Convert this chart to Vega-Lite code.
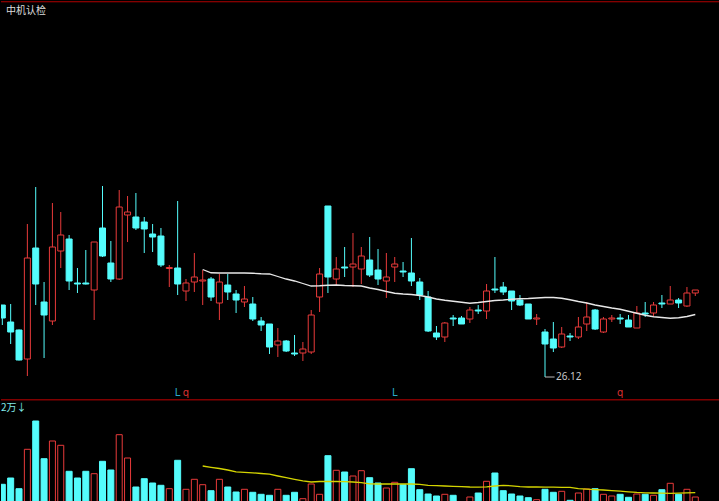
{
  "$schema": "https://vega.github.io/schema/vega-lite/v6.json",
  "background": "#000000",
  "padding": 0,
  "spacing": 0,
  "config": {"view": {"stroke": null}},
  "datasets": {
    "k": [
      {"i":0,"o":29.00,"h":29.00,"l":28.20,"c":28.48,"v":18700},
      {"i":1,"o":28.32,"h":29.04,"l":27.44,"c":27.92,"v":25000},
      {"i":2,"o":28.00,"h":28.02,"l":26.78,"c":26.80,"v":14300},
      {"i":3,"o":26.84,"h":32.24,"l":26.16,"c":30.88,"v":53700},
      {"i":4,"o":31.28,"h":33.72,"l":29.00,"c":29.84,"v":82000},
      {"i":5,"o":29.12,"h":29.92,"l":26.88,"c":28.60,"v":44300},
      {"i":6,"o":28.36,"h":33.08,"l":28.20,"c":31.32,"v":62000},
      {"i":7,"o":31.16,"h":32.72,"l":30.48,"c":31.80,"v":57700},
      {"i":8,"o":31.64,"h":31.80,"l":29.60,"c":29.96,"v":31700},
      {"i":9,"o":29.88,"h":30.48,"l":29.48,"c":29.84,"v":25000},
      {"i":10,"o":29.88,"h":31.20,"l":29.82,"c":29.84,"v":31700},
      {"i":11,"o":29.60,"h":31.52,"l":28.40,"c":31.52,"v":29300},
      {"i":12,"o":32.08,"h":33.76,"l":30.92,"c":30.96,"v":41700},
      {"i":13,"o":30.68,"h":31.56,"l":29.92,"c":30.04,"v":33000},
      {"i":14,"o":30.04,"h":33.60,"l":30.00,"c":32.92,"v":68300},
      {"i":15,"o":32.60,"h":33.36,"l":31.52,"c":32.72,"v":45000},
      {"i":16,"o":32.52,"h":33.48,"l":32.00,"c":32.08,"v":16000},
      {"i":17,"o":32.32,"h":32.52,"l":31.08,"c":32.04,"v":24300},
      {"i":18,"o":31.84,"h":32.24,"l":31.12,"c":31.72,"v":20000},
      {"i":19,"o":31.76,"h":32.08,"l":30.52,"c":30.60,"v":17700},
      {"i":20,"o":30.46,"h":30.60,"l":29.72,"c":30.50,"v":14300},
      {"i":21,"o":30.48,"h":33.16,"l":29.40,"c":29.84,"v":42700},
      {"i":22,"o":29.56,"h":30.04,"l":29.16,"c":29.88,"v":13700},
      {"i":23,"o":29.92,"h":31.08,"l":29.52,"c":30.12,"v":23700},
      {"i":24,"o":29.96,"h":30.40,"l":29.00,"c":30.00,"v":18300,"ma":30.42,"vma":37000},
      {"i":25,"o":30.04,"h":30.12,"l":29.16,"c":29.32,"v":12300,"ma":30.29,"vma":35700},
      {"i":26,"o":29.08,"h":30.24,"l":28.40,"c":29.92,"v":23700,"ma":30.28,"vma":34500},
      {"i":27,"o":29.80,"h":30.24,"l":29.20,"c":29.52,"v":16000,"ma":30.28,"vma":33000},
      {"i":28,"o":29.44,"h":29.60,"l":28.68,"c":29.20,"v":11000,"ma":30.28,"vma":31200},
      {"i":29,"o":29.12,"h":29.76,"l":28.92,"c":29.24,"v":13700,"ma":30.28,"vma":30700},
      {"i":30,"o":29.04,"h":29.32,"l":28.36,"c":28.44,"v":10700,"ma":30.27,"vma":30200},
      {"i":31,"o":28.36,"h":28.52,"l":27.96,"c":28.20,"v":8700,"ma":30.25,"vma":29500},
      {"i":32,"o":28.24,"h":28.24,"l":27.04,"c":27.32,"v":7700,"ma":30.24,"vma":28800},
      {"i":33,"o":27.40,"h":28.08,"l":26.92,"c":27.56,"v":13700,"ma":30.14,"vma":27000},
      {"i":34,"o":27.56,"h":27.60,"l":27.12,"c":27.16,"v":7700,"ma":30.04,"vma":25300},
      {"i":35,"o":27.08,"h":27.80,"l":26.96,"c":27.04,"v":10700,"ma":29.96,"vma":23700},
      {"i":36,"o":27.08,"h":27.52,"l":26.76,"c":27.24,"v":4300,"ma":29.86,"vma":22200},
      {"i":37,"o":27.12,"h":28.80,"l":27.04,"c":28.60,"v":19000,"ma":29.76,"vma":21000},
      {"i":38,"o":29.32,"h":30.48,"l":28.72,"c":30.24,"v":8700,"ma":29.77,"vma":21500},
      {"i":39,"o":32.96,"h":32.96,"l":29.48,"c":30.12,"v":47300,"ma":29.79,"vma":21700},
      {"i":40,"o":30.04,"h":30.92,"l":29.80,"c":30.44,"v":32700,"ma":29.80,"vma":21500},
      {"i":41,"o":30.52,"h":31.32,"l":30.12,"c":30.48,"v":31000,"ma":29.78,"vma":21400},
      {"i":42,"o":30.52,"h":31.88,"l":29.72,"c":30.64,"v":27000,"ma":29.77,"vma":21000},
      {"i":43,"o":30.44,"h":31.32,"l":29.84,"c":30.96,"v":32300,"ma":29.76,"vma":20300},
      {"i":44,"o":30.80,"h":31.72,"l":30.12,"c":30.20,"v":25300,"ma":29.68,"vma":19200},
      {"i":45,"o":30.40,"h":31.24,"l":29.80,"c":30.04,"v":20000,"ma":29.62,"vma":19000},
      {"i":46,"o":29.96,"h":31.08,"l":29.28,"c":30.12,"v":15000,"ma":29.54,"vma":19000},
      {"i":47,"o":30.52,"h":30.92,"l":29.92,"c":30.64,"v":20700,"ma":29.47,"vma":19000},
      {"i":48,"o":30.36,"h":30.72,"l":30.12,"c":30.32,"v":18300,"ma":29.44,"vma":19000},
      {"i":49,"o":30.28,"h":31.68,"l":29.76,"c":29.96,"v":34300,"ma":29.42,"vma":19000},
      {"i":50,"o":29.92,"h":30.08,"l":29.20,"c":29.40,"v":13300,"ma":29.38,"vma":18700},
      {"i":51,"o":29.32,"h":29.56,"l":27.92,"c":27.96,"v":9000,"ma":29.32,"vma":17700},
      {"i":52,"o":27.88,"h":28.16,"l":27.60,"c":27.72,"v":7000,"ma":29.24,"vma":17400},
      {"i":53,"o":27.72,"h":28.32,"l":27.52,"c":28.28,"v":8700,"ma":29.19,"vma":17000},
      {"i":54,"o":28.48,"h":28.60,"l":28.16,"c":28.44,"v":7700,"ma":29.15,"vma":16700},
      {"i":55,"o":28.48,"h":28.56,"l":28.24,"c":28.24,"v":1000,"ma":29.11,"vma":16400},
      {"i":56,"o":28.44,"h":28.92,"l":28.28,"c":28.80,"v":6000,"ma":29.07,"vma":16000},
      {"i":57,"o":28.80,"h":29.00,"l":28.64,"c":28.76,"v":10000,"ma":29.10,"vma":15800},
      {"i":58,"o":28.76,"h":29.84,"l":28.44,"c":29.56,"v":21700,"ma":29.14,"vma":16200},
      {"i":59,"o":29.64,"h":30.92,"l":29.48,"c":29.60,"v":30000,"ma":29.18,"vma":17000},
      {"i":60,"o":29.72,"h":29.92,"l":29.40,"c":29.52,"v":12300,"ma":29.20,"vma":17600},
      {"i":61,"o":29.56,"h":29.56,"l":28.80,"c":29.16,"v":9000,"ma":29.23,"vma":17200},
      {"i":62,"o":29.20,"h":29.40,"l":28.96,"c":29.00,"v":7000,"ma":29.25,"vma":16400},
      {"i":63,"o":29.04,"h":29.04,"l":28.44,"c":28.44,"v":5300,"ma":29.26,"vma":16000},
      {"i":64,"o":28.44,"h":28.64,"l":28.20,"c":28.48,"v":3300,"ma":29.28,"vma":16000},
      {"i":65,"o":27.92,"h":28.04,"l":26.12,"c":27.44,"v":13700,"ma":29.30,"vma":15900},
      {"i":66,"o":27.64,"h":28.32,"l":27.12,"c":27.28,"v":10700,"ma":29.30,"vma":15800},
      {"i":67,"o":27.32,"h":28.12,"l":27.28,"c":27.84,"v":11700,"ma":29.27,"vma":15700},
      {"i":68,"o":27.76,"h":27.88,"l":27.56,"c":27.72,"v":2700,"ma":29.21,"vma":15700},
      {"i":69,"o":27.72,"h":28.52,"l":27.64,"c":28.12,"v":10000,"ma":29.14,"vma":14300},
      {"i":70,"o":28.24,"h":29.12,"l":27.96,"c":28.52,"v":14000,"ma":29.08,"vma":13800},
      {"i":71,"o":28.80,"h":28.84,"l":28.00,"c":28.04,"v":14300,"ma":29.00,"vma":13400},
      {"i":72,"o":27.92,"h":28.52,"l":27.88,"c":28.44,"v":8700,"ma":28.94,"vma":13000},
      {"i":73,"o":28.44,"h":28.60,"l":28.32,"c":28.48,"v":7000,"ma":28.88,"vma":12400},
      {"i":74,"o":28.48,"h":28.64,"l":28.24,"c":28.44,"v":8700,"ma":28.83,"vma":11800},
      {"i":75,"o":28.40,"h":28.60,"l":28.12,"c":28.12,"v":5700,"ma":28.75,"vma":11200},
      {"i":76,"o":28.08,"h":28.96,"l":28.08,"c":28.68,"v":9000,"ma":28.67,"vma":10600},
      {"i":77,"o":28.68,"h":29.12,"l":28.52,"c":28.64,"v":8700,"ma":28.59,"vma":10200},
      {"i":78,"o":28.68,"h":29.12,"l":28.56,"c":29.00,"v":7700,"ma":28.53,"vma":10000},
      {"i":79,"o":29.08,"h":29.40,"l":28.88,"c":29.04,"v":13300,"ma":28.50,"vma":9800},
      {"i":80,"o":29.04,"h":29.76,"l":29.04,"c":29.20,"v":19700,"ma":28.47,"vma":9700},
      {"i":81,"o":29.20,"h":29.28,"l":28.88,"c":29.08,"v":8700,"ma":28.49,"vma":9900},
      {"i":82,"o":28.96,"h":29.72,"l":28.92,"c":29.48,"v":13700,"ma":28.54,"vma":10100},
      {"i":83,"o":29.48,"h":29.60,"l":29.36,"c":29.60,"v":6000,"ma":28.62,"vma":10300}
    ],
    "marks": [
      {"i":21,"t":"L"},
      {"i":22,"t":"q"},
      {"i":47,"t":"L"},
      {"i":74,"t":"q"}
    ]
  },
  "vconcat": [
    {
      "width": 719,
      "height": 397,
      "data": {"name": "k"},
      "layer": [
        {
          "data": {"values": [{"n": 1}]},
          "mark": {"type": "rule", "color": "#b00000", "strokeWidth": 1},
          "encoding": {
            "y": {"datum": 41.13, "type": "quantitative", "scale": {"domain": [25.32, 41.2], "nice": false, "zero": false, "padding": 0},
              "axis": {"grid": true, "gridColor": "#3a0000", "gridDash": [2, 3], "gridWidth": 1, "labels": false, "ticks": false, "domain": false, "title": null, "values": [40.52, 36.2, 31.88, 27.48], "minExtent": 0, "maxExtent": 0}}
          }
        },
        {
          "mark": {"type": "rule", "strokeWidth": 1, "clip": true},
          "encoding": {
            "x": {"field": "i", "type": "quantitative", "scale": {"domain": [-0.158, 85.96], "nice": false, "zero": false, "padding": 0}, "axis": null},
            "y": {"field": "l", "type": "quantitative", "axis": null},
            "y2": {"field": "h"},
            "color": {"condition": {"test": "datum.c >= datum.o", "value": "#e83a3a"}, "value": "#54fcfc"}
          }
        },
        {
          "mark": {"type": "bar", "size": 6, "strokeWidth": 1, "clip": true},
          "encoding": {
            "x": {"field": "i", "type": "quantitative", "axis": null},
            "y": {"field": "o", "type": "quantitative", "axis": null},
            "y2": {"field": "c"},
            "fill": {"condition": {"test": "datum.c >= datum.o", "value": "#000000"}, "value": "#54fcfc"},
            "stroke": {"condition": {"test": "datum.c >= datum.o", "value": "#e83a3a"}, "value": "#54fcfc"}
          }
        },
        {
          "mark": {"type": "line", "color": "#e8e8e8", "strokeWidth": 1.3, "clip": true},
          "encoding": {
            "x": {"field": "i", "type": "quantitative", "axis": null},
            "y": {"field": "ma", "type": "quantitative", "axis": null}
          }
        },
        {
          "transform": [
            {"window": [{"op": "row_number", "as": "r"}], "sort": [{"field": "l", "order": "ascending"}]},
            {"filter": "datum.r == 1"}
          ],
          "layer": [
            {
              "mark": {"type": "rule", "color": "#bbbbbb", "strokeWidth": 1},
              "encoding": {
                "x": {"field": "i", "type": "quantitative", "axis": null},
                "x2": {"datum": 66.15},
                "y": {"field": "l", "type": "quantitative", "axis": null}
              }
            },
            {
              "mark": {"type": "text", "align": "left", "baseline": "middle", "dx": 11, "font": "Noto Sans", "fontSize": 10, "color": "#c8c8c8"},
              "encoding": {
                "x": {"field": "i", "type": "quantitative", "axis": null},
                "y": {"field": "l", "type": "quantitative", "axis": null},
                "text": {"field": "l", "type": "quantitative", "format": ".2f"}
              }
            }
          ]
        },
        {
          "data": {"name": "marks"},
          "mark": {"type": "text", "align": "center", "baseline": "middle", "font": "DejaVu Sans", "fontSize": 10},
          "encoding": {
            "x": {"field": "i", "type": "quantitative", "axis": null},
            "y": {"datum": 25.5, "type": "quantitative", "axis": null},
            "text": {"field": "t"},
            "color": {"condition": {"test": "datum.t == 'L'", "value": "#2aa8c8"}, "value": "#d83030"}
          }
        },
        {
          "data": {"values": [{"t": "中机认检"}]},
          "mark": {"type": "text", "align": "left", "baseline": "middle", "font": "Noto Sans CJK SC", "fontSize": 10, "color": "#dddddd"},
          "encoding": {
            "x": {"datum": 0.44, "type": "quantitative", "axis": null},
            "y": {"datum": 40.76, "type": "quantitative", "axis": null},
            "text": {"field": "t"}
          }
        }
      ]
    },
    {
      "width": 719,
      "height": 104,
      "data": {"name": "k"},
      "layer": [
        {
          "data": {"values": [{"n": 1}]},
          "mark": {"type": "rule", "color": "#800000", "strokeWidth": 1.5},
          "encoding": {
            "y": {"datum": 103300, "type": "quantitative", "scale": {"domain": [0, 104000], "nice": false, "zero": true, "padding": 0},
              "axis": {"grid": true, "gridColor": "#3a0000", "gridDash": [2, 3], "gridWidth": 1, "labels": false, "ticks": false, "domain": false, "title": null, "values": [88000, 58000, 28000], "minExtent": 0, "maxExtent": 0}}
          }
        },
        {
          "mark": {"type": "bar", "size": 6, "strokeWidth": 1, "clip": true},
          "encoding": {
            "x": {"field": "i", "type": "quantitative", "scale": {"domain": [-0.158, 85.96], "nice": false, "zero": false, "padding": 0}, "axis": null},
            "y": {"field": "v", "type": "quantitative", "axis": null},
            "fill": {"condition": {"test": "datum.c >= datum.o", "value": "#000000"}, "value": "#54fcfc"},
            "stroke": {"condition": {"test": "datum.c >= datum.o", "value": "#e83a3a"}, "value": "#54fcfc"}
          }
        },
        {
          "mark": {"type": "line", "color": "#d4d400", "strokeWidth": 1.3, "clip": true},
          "encoding": {
            "x": {"field": "i", "type": "quantitative", "axis": null},
            "y": {"field": "vma", "type": "quantitative", "axis": null}
          }
        },
        {
          "data": {"values": [{"t": "2万↓"}]},
          "mark": {"type": "text", "align": "left", "baseline": "middle", "font": "Noto Sans CJK SC", "fontSize": 10, "color": "#80e8e8"},
          "encoding": {
            "x": {"datum": -0.158, "type": "quantitative", "axis": null},
            "y": {"datum": 95000, "type": "quantitative", "axis": null},
            "text": {"field": "t"}
          }
        }
      ]
    }
  ]
}
